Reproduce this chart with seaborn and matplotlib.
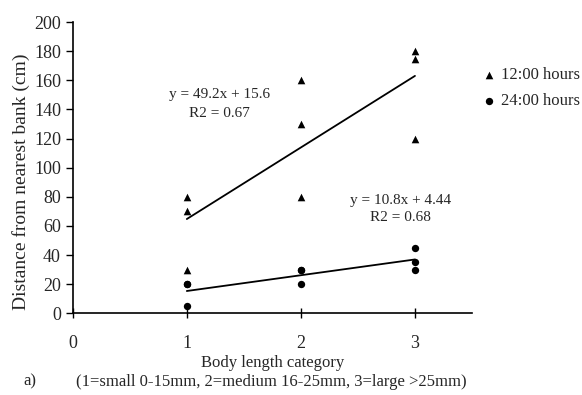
import numpy as np
import pandas as pd
import matplotlib
matplotlib.use("Agg")
import matplotlib.pyplot as plt
import seaborn as sns

# body length category and distance from bank (cm)
x_noon = [1, 1, 1, 2, 2, 2, 3, 3, 3]
y_noon = [80, 70, 30, 160, 130, 80, 180, 175, 120]
x_night = [1, 1, 1, 2, 2, 2, 3, 3, 3]
y_night = [20, 20, 5, 30, 30, 20, 45, 35, 30]
labels = ["12:00 hours", "24:00 hours"]

noon = pd.DataFrame({"x": x_noon, "y": y_noon})
night = pd.DataFrame({"x": x_night, "y": y_night})

sns.set_style("ticks")
plt.rcParams["font.family"] = ["Liberation Serif", "DejaVu Serif"]
plt.rcParams["font.size"] = 12

fig = plt.figure(figsize=(5.82, 3.95), dpi=100)
ax = fig.add_axes([0.125, 0.207, 0.686, 0.737])

sns.regplot(data=noon, x="x", y="y", ax=ax, ci=None, marker="^", color="black",
            scatter_kws={"s": 30, "linewidths": 0, "alpha": 1}, line_kws={"lw": 1.3},
            label=labels[0])
sns.regplot(data=night, x="x", y="y", ax=ax, ci=None, marker="o", color="black",
            scatter_kws={"s": 28, "linewidths": 0, "alpha": 1}, line_kws={"lw": 1.3},
            label=labels[1])

ax.text(1.29, 150, "y = 49.2x + 15.6", ha="center", va="center", fontsize=11)
ax.text(1.29, 137.5, "R2 = 0.67", ha="center", va="center", fontsize=11)
ax.text(2.87, 77.5, "y = 10.8x + 4.44", ha="center", va="center", fontsize=11)
ax.text(2.87, 65.5, "R2 = 0.68", ha="center", va="center", fontsize=11)

ax.set_xlim(0, 3.5)
ax.set_ylim(0, 200)
ax.set_xticks([0, 1, 2, 3])
ax.set_yticks(range(0, 201, 20))
ax.tick_params(axis="both", labelsize=13, length=5, width=1, color="black")
ax.tick_params(axis="x", direction="inout", length=7, pad=12)
for s in ["left", "bottom"]:
    ax.spines[s].set_linewidth(1.2)
    ax.spines[s].set_color("black")
sns.despine(ax=ax)

ax.set_xlabel("Body length category", fontsize=12)
ax.xaxis.set_label_coords(0.5, -0.143)
ax.set_ylabel("Distance from nearest bank (cm)", fontsize=14)
ax.yaxis.set_label_coords(-0.108, 0.45)
fig.text(0.467, 0.032, "(1=small 0-15mm, 2=medium 16-25mm, 3=large >25mm)",
         ha="center", va="center", fontsize=12)
fig.text(0.052, 0.035, "a)", ha="center", va="center", fontsize=12)

handles, lbls = ax.get_legend_handles_labels()
ax.legend(handles[:2], lbls[:2], loc="upper left", bbox_to_anchor=(1.025, 0.845),
          frameon=False, borderpad=0, borderaxespad=0, handletextpad=0.35,
          handlelength=0.8, fontsize=12, labelspacing=0.6, markerscale=1.0)

fig.savefig("out.png", dpi=100)
